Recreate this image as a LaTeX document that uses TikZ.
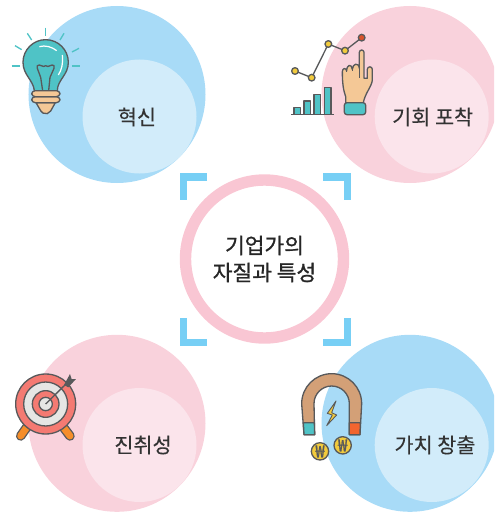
\documentclass[tikz,border=0pt]{standalone}
\usepackage{fontspec}
\newfontfamily\cjk[FakeBold=0.15]{Noto Sans CJK KR}
\newfontfamily\cjkmed[FakeBold=1]{Noto Sans CJK KR}
\definecolor{skyout}{HTML}{A8DBF7}
\definecolor{skyin}{HTML}{D2ECFA}
\definecolor{pinkout}{HTML}{F9D2DC}
\definecolor{pinkin}{HTML}{FBE4EB}
\definecolor{ringpink}{HTML}{F9C6D3}
\definecolor{cornerblue}{HTML}{77CFF5}
\definecolor{inkline}{HTML}{58595B}
\definecolor{teal}{HTML}{4FC3C6}
\definecolor{skin}{HTML}{F4C896}
\definecolor{coin}{HTML}{F2CB3D}
\definecolor{redtip}{HTML}{D9532B}
\definecolor{targetred}{HTML}{F47A72}
\definecolor{targetgrey}{HTML}{E6E6E4}
\definecolor{legorange}{HTML}{F58E2A}
\definecolor{copper}{HTML}{D3A077}
\definecolor{magnetred}{HTML}{F2652F}
\tikzset{%
  big disc/.style={circle,inner sep=0pt,outer sep=0pt,minimum size=35.4mm},%
  small disc/.style={circle,inner sep=0pt,outer sep=0pt,minimum size=22.8mm},%
  label text/.style={inner sep=0pt,outer sep=0pt,text=black!80,font=\cjk\fontsize{11.8}{13}\selectfont},%
  corner/.style={cornerblue,line width=4.1pt},%
  icon/.style={draw=inkline,line width=0.75pt,line join=round},%
  ray/.style={teal,line width=0.75pt},%
  coin mark/.style={inner sep=0pt,outer sep=0pt,text=inkline,font=\cjkmed\fontsize{9.5}{9.5}\selectfont}%
}

\begin{document}
\begin{tikzpicture}[x=0.2mm,y=-0.2mm] % px of the page

\path[use as bounding box,clip] (0,0) rectangle (494,513);

\node[big disc,fill=skyout] (bigA) at (117,94.5) {};
\node[big disc,fill=pinkout] (bigB) at (410,94.5) {};
\node[big disc,fill=pinkout] (bigC) at (117,423.3) {};
\node[big disc,fill=skyout] (bigD) at (410,423.3) {};
\node[small disc,fill=skyin] (smallA) at (139.5,116.5) {};
\node[small disc,fill=pinkin] (smallB) at (431.7,116.5) {};
\node[small disc,fill=pinkin] (smallC) at (139.5,445) {};
\node[small disc,fill=skyin] (smallD) at (431.7,445) {};

\node[label text] (textA) at (137,117) {혁신};
\node[label text] (textB) at (432.7,117) {기회 포착};
\node[label text] (textC) at (143,445) {진취성};
\node[label text] (textD) at (435,445) {가치 창출};

% centre
\node[circle,draw=ringpink,line width=6.5pt,inner sep=0pt,outer sep=0pt,
  minimum size=31.6mm,align=center,text=black!85,
  font=\cjkmed\fontsize{12.2}{15.4}\selectfont] (centre) at (264.5,259)
  {기업가의\\자질과 특성};
\draw[corner] (207,176.9) -- (183.6,176.9) -- (183.6,200);
\draw[corner] (323,176.9) -- (347.4,176.9) -- (347.4,200);
\draw[corner] (183.6,318) -- (183.6,342.4) -- (207,342.4);
\draw[corner] (347.4,318) -- (347.4,342.4) -- (323,342.4);

% bulb
\begin{scope}[scale=1/3]
\foreach \a/\b/\c/\d in {137/83/137/107,82/100/95/120,192/100/180/120,
    45/137/65/149,237/145/216/156,35/198/60/198,216/198/240/198}
  \draw[ray] (\a,\b) -- (\c,\d);
\draw[icon,fill=teal] (103,272) .. controls (100,240) and (69,225) .. (69,187)
  arc (180:360:68) .. controls (205,225) and (172,240) .. (172,272) -- cycle;
\draw[icon,fill=none] (128,272) -- (122,232) -- (112,205) -- (112,197)
  .. controls (120,190) and (130,205) .. (137,197)
  .. controls (145,205) and (155,190) .. (162,197) -- (162,205) -- (150,232) -- (146,272);
\draw[white,line width=0.7pt] (118,140) .. controls (135,135) and (155,140) .. (170,152);
\draw[white,line width=0.7pt] (187,165) .. controls (190,190) and (185,210) .. (175,225);
\draw[icon,fill=skin] (108,308) -- (166,308) -- (152,333) arc (30:150:17) -- cycle;
\draw[icon,fill=skin,rounded corners=2pt] (95,290) rectangle (180,308);
\draw[icon,fill=skin,rounded corners=2pt] (95,272) rectangle (180,290);
\end{scope}

% chart and hand
\begin{scope}[shift={(280,0)},scale=1/3]
\foreach \a/\b in {42/323,72/303,102/283,133/263}
  \draw[icon,fill=teal] (\a,343) rectangle (\a+20,\b);
\draw[icon] (33,343) -- (163,343);
\draw[icon] (45,213) -- (95,233) -- (145,132) -- (195,152) -- (245,113);
\foreach \a/\b in {45/213,95/233,145/132,195/152}
  \draw[icon,fill=coin] (\a,\b) circle (10);
\draw[icon,fill=redtip] (245,113) circle (10);
\draw[icon,fill=skin] (197,308) -- (197,290) .. controls (190,270) and (187,250) .. (187,215)
  .. controls (187,203) and (199,203) .. (200,213)
  .. controls (200,193) and (215,190) .. (217,208)
  .. controls (218,190) and (236,186) .. (238,205)
  -- (238,157) arc (180:360:7) -- (252,235) -- (262,235) -- (262,208)
  arc (180:360:7.5) -- (277,240) .. controls (275,260) and (255,280) .. (250,308) -- cycle;
\draw[icon] (200,213) -- (200,216);
\draw[icon] (217,208) -- (217,214);
\draw[icon] (238,205) -- (238,235);
\draw[icon,fill=teal,rounded corners=1.5pt] (193,308) rectangle (257,344);
\end{scope}

% target
\begin{scope}[shift={(0,330)},scale=1/3]
\draw[inkline,line width=5.4pt,line cap=round] (85,285) -- (62,318);
\draw[inkline,line width=5.4pt,line cap=round] (185,285) -- (210,318);
\draw[legorange,line width=3.9pt,line cap=round] (85,285) -- (62,318);
\draw[legorange,line width=3.9pt,line cap=round] (185,285) -- (210,318);
\draw[icon,fill=targetred] (137,222) circle (90);
\draw[icon,fill=targetgrey] (137,222) circle (66);
\draw[icon,fill=targetred] (137,222) circle (40);
\draw[icon,fill=targetgrey] (137,222) circle (20);
\draw[icon] (137,222) -- (205,155);
\fill[inkline] (192,165) -- (210,132) -- (215,147) -- (228,147) -- (205,172) -- cycle;
\end{scope}

% magnet and coins
\begin{scope}[shift={(280,330)},scale=1/3]
\draw[icon,fill=copper] (72,314) -- (65,221) arc (180:360:90) -- (240,314) -- (208,314)
  -- (208,221) arc (360:180:53) -- (104,314) -- cycle;
\draw[icon,fill=teal] (70,278) -- (103,278) -- (104,314) -- (72,314) -- cycle;
\draw[icon,fill=magnetred] (208,278) -- (241,278) -- (240,314) -- (208,314) -- cycle;
\draw[icon,fill=coin,line width=0.5pt] (168,213) -- (142,250) -- (157,255) -- (140,287) -- (170,255)
  -- (155,248) -- cycle;
\draw[icon,fill=coin] (120,364) circle (26);
\draw[icon,fill=coin] (188,346) circle (26);
\node[coin mark] (wonA) at (120,364) {₩};
\node[coin mark] (wonB) at (188,346) {₩};
\end{scope}

\end{tikzpicture}
\end{document}
